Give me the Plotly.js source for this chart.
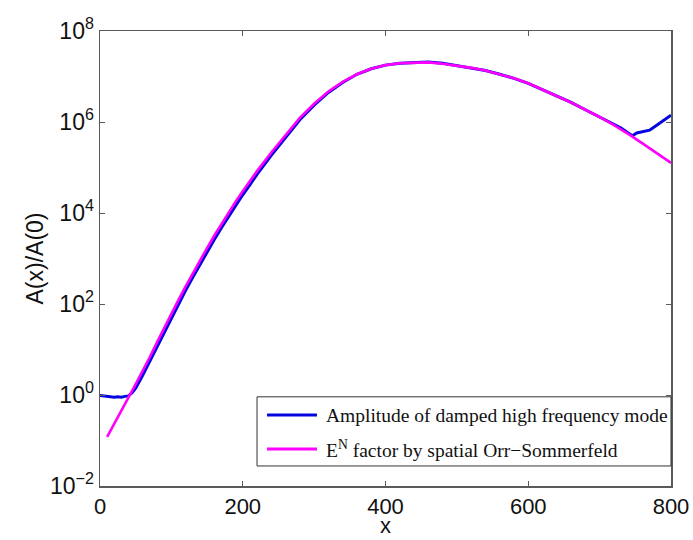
<!DOCTYPE html>
<html>
<head>
<meta charset="utf-8">
<script src="https://cdn.plot.ly/plotly-3.0.1.min.js"></script>
<style>html,body{margin:0;padding:0;background:#fff;}#chart{width:693px;height:540px;}</style>
</head>
<body>
<div id="chart"></div>
<script>
// Amplitude of damped high frequency mode (blue)
const xBlue = [0,5,10,15,20,25,30,35,40,45,50,60,70,80,90,100,110,120,130,140,150,160,170,180,190,200,210,220,240,260,280,300,320,340,360,380,400,420,440,460,480,500,520,540,560,580,600,620,640,660,680,700,710,720,730,740,746,752,760,770,780,790,800];
const yBlue = [0.977,0.955,0.933,0.92,0.891,0.912,0.891,0.933,0.955,1.12,1.41,2.75,5.62,11.7,24.5,50.1,100,200,389,741,1380,2570,4680,8320,1.45e4,2.51e4,4.17e4,7.08e4,1.86e5,4.68e5,1.12e6,2.34e6,4.47e6,7.41e6,1.12e7,1.48e7,1.78e7,1.95e7,2.04e7,2.09e7,1.95e7,1.74e7,1.55e7,1.35e7,1.12e7,9.12e6,7.08e6,5.13e6,3.80e6,2.69e6,1.86e6,1.29e6,1.07e6,8.91e5,7.41e5,5.75e5,5.01e5,5.75e5,6.17e5,6.61e5,8.51e5,1.10e6,1.41e6];

// E^N factor by spatial Orr-Sommerfeld (magenta)
const xMagenta = [10,20,30,40,50,60,70,80,90,100,110,120,130,140,150,160,170,180,190,200,210,220,240,260,280,300,320,340,360,380,400,420,440,460,480,500,520,540,560,580,600,620,640,660,680,700,720,740,760,780,800];
const yMagenta = [0.120,0.240,0.468,0.891,1.74,3.39,6.92,14.5,30.2,61.7,123,245,479,912,1700,3160,5750,1.02e4,1.78e4,3.02e4,5.01e4,8.32e4,2.14e5,5.25e5,1.23e6,2.51e6,4.68e6,7.59e6,1.12e7,1.48e7,1.78e7,1.95e7,2.00e7,2.04e7,1.91e7,1.74e7,1.55e7,1.35e7,1.12e7,9.12e6,7.08e6,5.13e6,3.80e6,2.69e6,1.86e6,1.29e6,8.51e5,5.50e5,3.39e5,2.09e5,1.26e5];

const seriesNames = ["Amplitude of damped high frequency mode", "E<sup>N</sup> factor by spatial Orr\u2212Sommerfeld"];
const seriesColors = ["#0505e0", "#ff00ff"];
const xTicks = [0,200,400,600,800];
const yTickVals = [1e-2, 1, 1e2, 1e4, 1e6, 1e8];
const yTickText = ["10<sup>\u22122</sup>", "10<sup>0</sup>", "10<sup>2</sup>", "10<sup>4</sup>", "10<sup>6</sup>", "10<sup>8</sup>"];
const xTitle = "x";
const yTitle = "A(x)/A(0)";

const axisColor = "#5a5a5a";
const sansFont = "Liberation Sans, Arial, sans-serif";
const tickFont = {family: sansFont, size: 23, color: "#111"};
const xTickFont = {family: sansFont, size: 22, color: "#111"};
const legendFont = {family: "Liberation Serif, Times New Roman, serif", size: 19.5, color: "#111"};

const data = [
  {x: xBlue, y: yBlue, type: "scatter", mode: "lines", name: seriesNames[0],
   line: {color: seriesColors[0], width: 3}},
  {x: xMagenta, y: yMagenta, type: "scatter", mode: "lines", name: seriesNames[1],
   line: {color: seriesColors[1], width: 2.6}}
];

// hand-drawn legend box (paper coordinates)
const legBox = {x0: 0.275, x1: 1.0, y0: 0.044, y1: 0.196};
const legRows = [0.156, 0.0815];
const legLine = [0.2925, 0.380];
const legTextX = 0.392;

const shapes = [
  {type: "rect", xref: "paper", yref: "paper", x0: legBox.x0, x1: legBox.x1, y0: legBox.y0, y1: legBox.y1,
   line: {color: "#333", width: 1}, fillcolor: "#fff", layer: "above"}
];
const annotations = [
  {xref: "paper", yref: "paper", x: 0.5, y: -0.1185, xanchor: "center", yanchor: "bottom",
   text: xTitle, showarrow: false, font: {family: sansFont, size: 22, color: "#111"}}
];
seriesNames.forEach((nm, i) => {
  shapes.push({type: "line", xref: "paper", yref: "paper", x0: legLine[0], x1: legLine[1], y0: legRows[i], y1: legRows[i],
    line: {color: seriesColors[i], width: 3}, layer: "above"});
  annotations.push({xref: "paper", yref: "paper", x: legTextX, y: legRows[i], xanchor: "left", yanchor: "middle",
    text: nm, showarrow: false, font: legendFont});
});

const layout = {
  width: 693, height: 540,
  margin: {l: 100, r: 22, t: 31, b: 54},
  paper_bgcolor: "#fff", plot_bgcolor: "#fff",
  showlegend: false,
  shapes: shapes,
  annotations: annotations,
  xaxis: {range: [0, 800], tickvals: xTicks, ticktext: xTicks.map(String),
    ticks: "inside", ticklen: 5, tickcolor: axisColor, tickwidth: 1,
    showline: true, linecolor: axisColor, linewidth: 1.5, mirror: "ticks",
    showgrid: false, zeroline: false, tickfont: xTickFont},
  yaxis: {type: "log", range: [-2, 8], tickvals: yTickVals, ticktext: yTickText,
    ticks: "inside", ticklen: 5, tickcolor: axisColor, tickwidth: 1,
    showline: true, linecolor: axisColor, linewidth: 1.5, mirror: "ticks",
    showgrid: false, zeroline: false, tickfont: tickFont,
    title: {text: yTitle, font: {family: sansFont, size: 23, color: "#111"}, standoff: 0}}
};

Plotly.newPlot("chart", data, layout, {displayModeBar: false, staticPlot: true});
</script>
</body>
</html>
